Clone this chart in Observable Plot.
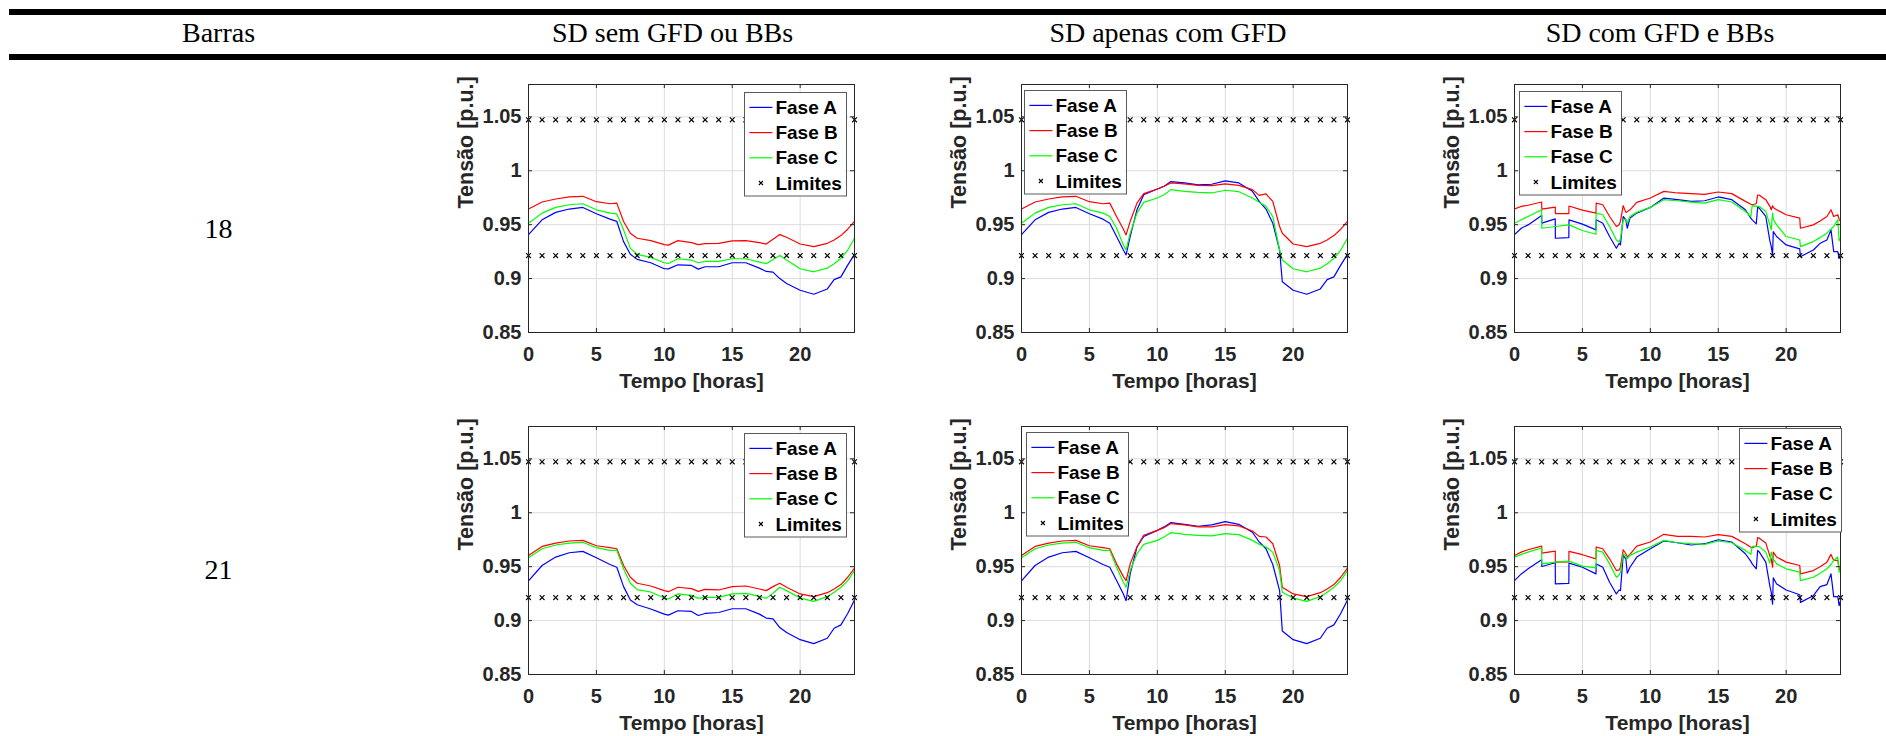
<!DOCTYPE html>
<html><head><meta charset="utf-8">
<script src="https://cdn.jsdelivr.net/npm/d3@7"></script>
<script src="https://cdn.jsdelivr.net/npm/@observablehq/plot@0.6"></script>
<style>
html,body{margin:0;padding:0;background:#fff;overflow:hidden;width:1886px;height:736px;}
#root{position:relative;width:1886px;height:736px;}
.abs{position:absolute;left:0;top:0;}
</style>
</head><body><div id="root"></div>
<script>
// ---------- texts ----------
const headerTexts = ["Barras", "SD sem GFD ou BBs", "SD apenas com GFD", "SD com GFD e BBs"];
const busLabels = ["18", "21"];
const faseNames = ["Fase A", "Fase B", "Fase C"];
const faseColors = ["#0000ff", "#ff0000", "#00ff00"];
const limitName = "Limites";
const xLabel = "Tempo [horas]";
const yLabel = "Tensão [p.u.]";
const xTicks = [0, 5, 10, 15, 20];
const yTicks = [0.85, 0.9, 0.95, 1, 1.05];
const limitHours = [0,1,2,3,4,5,6,7,8,9,10,11,12,13,14,15,16,17,18,19,20,21,22,23,24];
const limitLow = 0.9213;
const limitHigh = 1.0472;

// ---------- SD sem GFD ou BBs ----------
const tSem = [0,1,2,3,4,5,6,6.5,7,7.5,8,9,10,10.3,11,12,12.5,13,14,15,16,17,17.5,18,18.5,19,20,21,22,22.5,23,23.5,24];
const b18SemA = [0.9408,0.9545,0.9614,0.9645,0.966,0.9601,0.9551,0.953,0.9343,0.9225,0.9178,0.9147,0.9091,0.909,0.9128,0.9122,0.9088,0.911,0.911,0.9147,0.9147,0.9097,0.9066,0.906,0.9,0.8954,0.8892,0.8855,0.8904,0.899,0.9016,0.9125,0.9225];
const b18SemB = [0.9645,0.971,0.9738,0.9757,0.9763,0.9713,0.9694,0.970,0.953,0.942,0.9374,0.9352,0.9315,0.931,0.9352,0.9334,0.9315,0.9324,0.9327,0.9349,0.9352,0.9334,0.932,0.9365,0.9408,0.9383,0.9321,0.9296,0.9327,0.9358,0.9399,0.9458,0.953];
const b18SemC = [0.9514,0.9607,0.966,0.9685,0.9694,0.9638,0.9607,0.960,0.9452,0.928,0.9225,0.9197,0.9147,0.914,0.9184,0.9172,0.9147,0.916,0.916,0.9184,0.9184,0.9153,0.9138,0.9178,0.9215,0.9172,0.9091,0.9063,0.9097,0.9138,0.9187,0.9265,0.9374];
const b21SemA = [0.9368,0.9511,0.9589,0.9629,0.9642,0.9582,0.952,0.9495,0.9315,0.919,0.9147,0.9107,0.906,0.9051,0.9091,0.9085,0.9047,0.9066,0.9075,0.911,0.911,0.906,0.9023,0.9016,0.8935,0.8889,0.8823,0.8786,0.8836,0.8929,0.896,0.9066,0.919];
const b21SemB = [0.9604,0.9688,0.9719,0.9738,0.9744,0.9694,0.9676,0.9666,0.9511,0.9402,0.9346,0.9321,0.9278,0.9268,0.9309,0.9296,0.9271,0.929,0.9284,0.9315,0.9321,0.9293,0.9278,0.9315,0.9346,0.9309,0.9247,0.9222,0.9259,0.9293,0.9334,0.9402,0.9486];
const b21SemC = [0.9582,0.9666,0.9701,0.9719,0.9726,0.9676,0.9651,0.9651,0.948,0.9346,0.9287,0.9265,0.9209,0.92,0.9247,0.9234,0.9206,0.9215,0.9215,0.9247,0.9253,0.9225,0.9206,0.9253,0.9309,0.9278,0.9209,0.9178,0.9222,0.9262,0.9309,0.9371,0.9464];

// ---------- SD apenas com GFD ----------
const tGfd = [0,1,2,3,4,5,6,6.5,7,7.5,7.7,8,8.5,9,10,10.5,11,12,13,14,15,16,17,17.5,18,18.5,19,19.2,20,21,22,22.5,23,23.5,24];
const b18GfdA = [0.9408,0.9545,0.9614,0.9645,0.966,0.9601,0.9551,0.9514,0.939,0.9265,0.9219,0.939,0.9638,0.9778,0.9831,0.9856,0.99,0.9887,0.9869,0.9875,0.9906,0.9887,0.9809,0.9716,0.9645,0.9514,0.9265,0.897,0.8892,0.8855,0.8904,0.899,0.9016,0.9125,0.9225];
const b18GfdB = [0.9645,0.971,0.9738,0.9757,0.9763,0.9713,0.9694,0.970,0.9576,0.9458,0.9405,0.953,0.970,0.9788,0.9831,0.9856,0.9887,0.9878,0.9865,0.9862,0.9878,0.9865,0.9825,0.9772,0.9785,0.9716,0.9483,0.942,0.9321,0.9296,0.9327,0.9358,0.9399,0.9458,0.953];
const b18GfdC = [0.9514,0.9607,0.966,0.9685,0.9694,0.9638,0.9607,0.9576,0.9467,0.9312,0.9265,0.9421,0.9607,0.9707,0.9747,0.9778,0.9825,0.9809,0.98,0.9794,0.9819,0.9806,0.9747,0.9707,0.967,0.9576,0.9265,0.9172,0.9091,0.9063,0.9097,0.9138,0.9187,0.9265,0.9374];
const b21GfdA = [0.9368,0.9511,0.9589,0.9629,0.9642,0.9582,0.952,0.9495,0.9371,0.9247,0.9184,0.9433,0.9682,0.9781,0.9837,0.9869,0.9909,0.9893,0.9875,0.9887,0.9918,0.9893,0.9819,0.9729,0.9666,0.952,0.9278,0.8904,0.8823,0.8786,0.8836,0.8929,0.896,0.9066,0.919];
const b21GfdB = [0.9604,0.9688,0.9719,0.9738,0.9744,0.9694,0.9676,0.9666,0.9526,0.9408,0.9371,0.9526,0.9682,0.9791,0.9837,0.9862,0.99,0.9887,0.9869,0.9869,0.989,0.9878,0.9831,0.9781,0.9775,0.9713,0.9511,0.9309,0.9247,0.9222,0.9259,0.9293,0.9334,0.9402,0.9486];
const b21GfdC = [0.9582,0.9666,0.9701,0.9719,0.9726,0.9676,0.9651,0.9651,0.9495,0.9355,0.9309,0.9464,0.962,0.9707,0.9744,0.9775,0.9816,0.98,0.9791,0.9785,0.9806,0.9797,0.9744,0.9707,0.9682,0.9635,0.9464,0.9262,0.9209,0.9178,0.9222,0.9262,0.9309,0.9371,0.9464];

// ---------- SD com GFD e BBs ----------
const tBbs = [0,0.5,1,2,2.01,3,3.01,4,4.01,5,6,6.01,6.5,7,7.5,7.7,7.8,8,8.2,8.3,8.5,9,10,11,12,13,14,15,16,17,17.4,17.5,17.8,17.9,18,18.5,18.8,18.9,19,19.05,19.3,20,21,21.05,22,22.5,23,23.3,23.5,23.8,23.9,24];
const b18BbsA = [0.9408,0.9467,0.9498,0.9586,0.9514,0.9554,0.9374,0.938,0.9545,0.9505,0.9452,0.9545,0.9514,0.939,0.9281,0.9327,0.9312,0.9576,0.9545,0.9467,0.9561,0.9607,0.966,0.9747,0.9732,0.9716,0.9722,0.9757,0.9732,0.9638,0.956,0.9545,0.9508,0.9663,0.9655,0.9576,0.935,0.9296,0.9219,0.9436,0.939,0.9312,0.9275,0.9203,0.9265,0.9327,0.9358,0.9452,0.925,0.925,0.9187,0.9212];
const b18BbsB = [0.9645,0.967,0.968,0.971,0.9645,0.9663,0.9602,0.9602,0.9673,0.9635,0.9607,0.970,0.9685,0.9576,0.9483,0.950,0.953,0.9676,0.9614,0.962,0.9638,0.9707,0.9747,0.9809,0.9794,0.9788,0.9781,0.9803,0.9788,0.9716,0.969,0.9685,0.9694,0.9775,0.9775,0.9732,0.967,0.9638,0.9676,0.966,0.9638,0.9592,0.9561,0.9467,0.9498,0.9535,0.9576,0.9638,0.9576,0.9592,0.955,0.953];
const b18BbsC = [0.9514,0.9545,0.9576,0.9638,0.9467,0.9483,0.9483,0.9498,0.9498,0.9446,0.9411,0.9607,0.9592,0.9483,0.9358,0.934,0.937,0.9545,0.955,0.9514,0.9576,0.9614,0.966,0.9732,0.9722,0.971,0.970,0.9732,0.971,0.9623,0.9576,0.9676,0.967,0.967,0.967,0.9623,0.9498,0.9452,0.9607,0.955,0.9498,0.939,0.9358,0.9296,0.9343,0.938,0.9421,0.946,0.9483,0.9545,0.9352,0.9374];
const b21BbsA = [0.9371,0.9433,0.948,0.9564,0.9502,0.9536,0.934,0.9346,0.9533,0.9495,0.9433,0.9526,0.9495,0.9355,0.9247,0.9284,0.9278,0.9604,0.9573,0.9439,0.9495,0.9589,0.9666,0.9738,0.9722,0.9701,0.9713,0.975,0.9729,0.962,0.955,0.9526,0.948,0.9651,0.964,0.9542,0.932,0.9262,0.9153,0.9396,0.934,0.9284,0.924,0.9169,0.9231,0.9315,0.9334,0.9433,0.9222,0.9222,0.9138,0.9184];
const b21BbsB = [0.9604,0.9635,0.9657,0.9691,0.9626,0.9644,0.9542,0.9545,0.9642,0.9611,0.9573,0.9682,0.9666,0.9573,0.9464,0.947,0.9495,0.9657,0.962,0.9589,0.9614,0.9691,0.9729,0.98,0.9781,0.9781,0.9775,0.9797,0.9781,0.9713,0.968,0.9676,0.9691,0.9769,0.9765,0.9719,0.96,0.9573,0.9495,0.9635,0.9589,0.9542,0.9511,0.9433,0.9464,0.950,0.9542,0.9614,0.9558,0.9558,0.948,0.9464];
const b21BbsC = [0.9589,0.9614,0.9635,0.9673,0.9526,0.9542,0.9542,0.9551,0.9551,0.9505,0.9489,0.9651,0.9635,0.9526,0.9402,0.942,0.9449,0.962,0.96,0.9573,0.9604,0.9635,0.9682,0.9744,0.9722,0.9713,0.9707,0.9738,0.9722,0.9651,0.9614,0.9688,0.9688,0.9688,0.9688,0.9635,0.9533,0.9635,0.9589,0.957,0.9526,0.948,0.9449,0.9371,0.9402,0.944,0.948,0.952,0.9558,0.9589,0.9449,0.9464];

// ---------- layout ----------
const FONT = "'Liberation Sans', Arial, Helvetica, sans-serif";
const SERIF = "'Liberation Serif', 'Times New Roman', serif";
const W = 432, H = 323, ML = 90, MR = 16, MT = 15, MB = 60;
const frameW = W - ML - MR, frameH = H - MT - MB;

const panels = [
  {t: tSem, A: b18SemA, B: b18SemB, C: b18SemC, left: 438.3, top: 69.3, leg: [744.3, 92.3]},
  {t: tGfd, A: b18GfdA, B: b18GfdB, C: b18GfdC, left: 931.3, top: 69.3, leg: [1024.3, 90.3]},
  {t: tBbs, A: b18BbsA, B: b18BbsB, C: b18BbsC, left: 1424.3, top: 69.3, leg: [1518.7, 90.7]},
  {t: tSem, A: b21SemA, B: b21SemB, C: b21SemC, left: 438.3, top: 411.3, leg: [744.3, 433.3]},
  {t: tGfd, A: b21GfdA, B: b21GfdB, C: b21GfdC, left: 931.3, top: 411.3, leg: [1025.7, 431.7]},
  {t: tBbs, A: b21BbsA, B: b21BbsB, C: b21BbsC, left: 1424.3, top: 411.3, leg: [1739.3, 428.3]}
];

const root = document.getElementById("root");
const NS = "http://www.w3.org/2000/svg";

// header table (rules + column titles + bus labels)
const hdrX = [218.5, 672.6, 1168, 1660];
let hdr = `<svg class="abs" width="1886" height="736" xmlns="${NS}">`;
hdr += `<rect x="9" y="9" width="1877" height="6" fill="#000"/>`;
hdr += `<rect x="9" y="54" width="1877" height="6" fill="#000"/>`;
headerTexts.forEach((s, i) => {
  hdr += `<text x="${hdrX[i]}" y="42" text-anchor="middle" font-family="${SERIF}" font-size="28" fill="#000">${s}</text>`;
});
const busY = [238.3, 579];
busLabels.forEach((s, i) => {
  hdr += `<text x="218.4" y="${busY[i]}" text-anchor="middle" font-family="${SERIF}" font-size="28" fill="#000">${s}</text>`;
});
hdr += `</svg>`;
root.insertAdjacentHTML("beforeend", hdr);

const fmtY = d => String(+d.toFixed(2));

panels.forEach(p => {
  const data = [];
  ["A", "B", "C"].forEach((k, j) => p.t.forEach((t, i) => data.push({t, v: p[k][i], fase: faseNames[j]})));
  const lim = [];
  limitHours.forEach(h => { lim.push({t: h, v: limitLow}); lim.push({t: h, v: limitHigh}); });

  const chart = Plot.plot({
    width: W, height: H, marginLeft: ML, marginRight: MR, marginTop: MT, marginBottom: MB,
    style: {fontFamily: FONT, fontSize: "20px", fontWeight: "bold", color: "#262626", background: "transparent", overflow: "visible"},
    x: {domain: [0, 24]},
    y: {domain: [0.85, 1.08]},
    color: {domain: faseNames, range: faseColors},
    marks: [
      Plot.ruleX(xTicks, {stroke: "#dcdcdc", strokeWidth: 1}),
      Plot.ruleY(yTicks, {stroke: "#dcdcdc", strokeWidth: 1}),
      Plot.line(data, {x: "t", y: "v", z: "fase", stroke: "fase", strokeWidth: 1.2}),
      Plot.dot(lim, {x: "t", y: "v", symbol: "times", r: 2.3, stroke: "#000", strokeWidth: 1.1}),
      Plot.tickX(xTicks, {insetBottom: frameH - 4, stroke: "#262626"}),
      Plot.tickX(xTicks, {insetTop: frameH - 4, stroke: "#262626"}),
      Plot.tickY(yTicks, {insetRight: frameW - 4, stroke: "#262626"}),
      Plot.tickY(yTicks, {insetLeft: frameW - 4, stroke: "#262626"}),
      Plot.frame({stroke: "#262626", strokeWidth: 1}),
      Plot.axisX({ticks: xTicks, tickSize: 0, tickPadding: 14, label: null}),
      Plot.axisY({ticks: yTicks, tickSize: 0, tickPadding: 7, tickFormat: fmtY, label: null}),
      Plot.text([xLabel], {frameAnchor: "bottom", dy: 49, lineAnchor: "middle", fontSize: 21, fontWeight: "bold"}),
      Plot.text([yLabel], {frameAnchor: "left", dx: -62, rotate: -90, lineAnchor: "middle", fontSize: 21.5, fontWeight: "bold"})
    ]
  });
  chart.style.position = "absolute";
  chart.style.left = p.left + "px";
  chart.style.top = p.top + "px";
  root.appendChild(chart);

  // legend box
  const lw = 103, lh = 104.5;
  let lg = `<svg class="abs" style="left:${p.leg[0]}px;top:${p.leg[1]}px;overflow:visible" width="${lw}" height="${lh}" xmlns="${NS}">`;
  lg += `<rect x="0.5" y="0.5" width="${lw - 1}" height="${lh - 1}" fill="#fff" stroke="#5a5a5a" stroke-width="1"/>`;
  const rowsY = [15.4, 40.6, 65.8, 91];
  faseNames.forEach((n, i) => {
    lg += `<line x1="5.4" x2="28.4" y1="${rowsY[i]}" y2="${rowsY[i]}" stroke="${faseColors[i]}" stroke-width="1.2"/>`;
    lg += `<text x="31.4" y="${rowsY[i]}" dy="0.35em" font-family="${FONT}" font-weight="bold" font-size="19" fill="#000">${n}</text>`;
  });
  const mx = 16.9, my = rowsY[3];
  lg += `<path d="M${mx - 2},${my - 2}L${mx + 2},${my + 2}M${mx - 2},${my + 2}L${mx + 2},${my - 2}" stroke="#000" stroke-width="1.1"/>`;
  lg += `<text x="31.4" y="${my}" dy="0.35em" font-family="${FONT}" font-weight="bold" font-size="19" fill="#000">${limitName}</text>`;
  lg += `</svg>`;
  root.insertAdjacentHTML("beforeend", lg);
});
</script>
</body></html>
